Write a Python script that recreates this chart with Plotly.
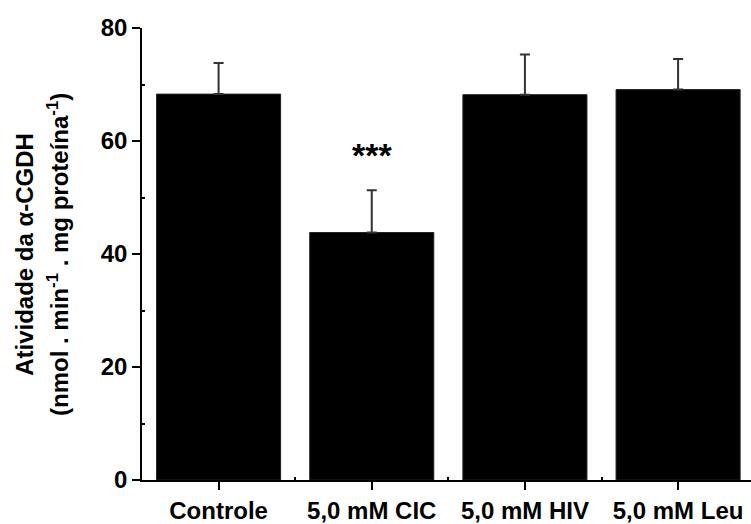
import plotly.graph_objects as go

categories = ["Controle", "5,0 mM CIC", "5,0 mM HIV", "5,0 mM Leu"]
means = [68.3, 43.8, 68.2, 69.1]
errors = [5.5, 7.5, 7.1, 5.4]
y_ticks = [0, 20, 40, 60, 80]
significance = ["", "***", "", ""]

FONT = "Liberation Sans, Arial, sans-serif"
xpos = list(range(len(categories)))

fig = go.Figure()
fig.add_trace(go.Bar(
    x=xpos, y=means,
    marker=dict(color="black", line=dict(color="#222", width=1)),
    width=0.81,
    error_y=dict(type="data", array=errors, arrayminus=[0]*len(errors), symmetric=False,
                 color="#333333", thickness=2, width=5),
    showlegend=False,
))

for i, s in enumerate(significance):
    if s:
        fig.add_annotation(x=xpos[i], y=means[i] + errors[i] + 6.3, text=s, showarrow=False,
                           font=dict(family=FONT, size=34, color="black", weight="bold"),
                           yanchor="middle", xanchor="center")

fig.add_annotation(xref="paper", yref="paper", x=-0.194, y=0.5, xanchor="center", yanchor="middle",
                   text="Atividade da α-CGDH", textangle=-90, showarrow=False,
                   font=dict(family=FONT, size=24, color="black", weight="bold"))
fig.add_annotation(xref="paper", yref="paper", x=-0.138, y=0.5, xanchor="center", yanchor="middle",
                   text="(nmol . min<sup>-1</sup> . mg proteína<sup>-1</sup>)", textangle=-90, showarrow=False,
                   font=dict(family=FONT, size=24, color="black", weight="bold"))

fig.update_layout(
    width=751, height=524,
    margin=dict(l=142, r=0, t=28, b=42),
    plot_bgcolor="white", paper_bgcolor="white",
    font=dict(family=FONT, color="black"),
)
fig.update_xaxes(
    range=[-0.5, 3.476], tickmode="array", tickvals=xpos, ticktext=categories,
    showline=True, linecolor="black", linewidth=1.5, showgrid=False, zeroline=False,
    ticks="outside", ticklen=8, tickwidth=1.5, tickcolor="black",
    tickfont=dict(family=FONT, size=24, color="black", weight="bold"),
    minor=dict(tickmode="array", tickvals=[0.5, 1.5, 2.5], ticks="inside", ticklen=3, tickcolor="black", showgrid=False),
)
fig.update_yaxes(
    range=[0, 80], tickmode="array", tickvals=y_ticks,
    showline=True, linecolor="black", linewidth=1.5, showgrid=False, zeroline=False,
    ticks="outside", ticklen=8, tickwidth=1.5, tickcolor="black",
    tickfont=dict(family=FONT, size=24, color="black", weight="bold"),
    minor=dict(tickmode="array", tickvals=[10, 30, 50, 70], ticks="inside", ticklen=3, tickcolor="black", showgrid=False),
)

fig.write_html("out.html")
